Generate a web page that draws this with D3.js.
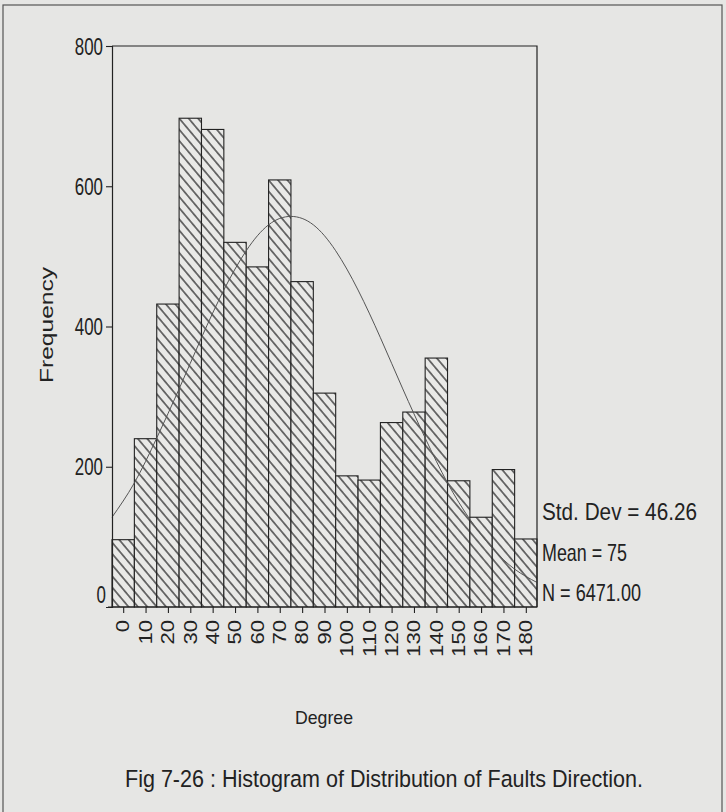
<!DOCTYPE html>
<html>
<head>
<meta charset="utf-8">
<script src="https://cdn.jsdelivr.net/npm/d3@7"></script>
<style>
  body { margin: 0; background: #e6e6e4; }
  svg { display: block; }
</style>
</head>
<body>
<div id="chart"></div>
<script>
// bins (degree centres) and their counts
var degrees = [0, 10, 20, 30, 40, 50, 60, 70, 80, 90, 100, 110, 120, 130, 140, 150, 160, 170, 180];
var counts = [96, 240, 432, 697, 681, 520, 485, 609, 464, 305, 187, 181, 263, 278, 355, 180, 128, 196, 97];

// fitted normal curve, read at the bin edges (-5, 5, ... 185)
var curveDegrees = [-5, 5, 15, 25, 35, 45, 55, 65, 75, 85, 95, 105, 115, 125, 135, 145, 155, 165, 175, 185];
var curveValues = [128, 177, 241, 311, 384, 452, 508, 545, 557, 545, 508, 452, 384, 311, 241, 177, 125, 84, 54, 35];

var yTicks = [0, 200, 400, 600, 800];
var statLabels = ["Std. Dev = 46.26", "Mean = 75", "N = 6471.00"];

var W = 726, H = 812;
var ink = "#222";
var font = "'Liberation Sans', Arial, sans-serif";

var svg = d3.select("#chart").append("svg")
    .attr("width", W)
    .attr("height", H);

// hatch pattern, lines running down to the right
var gap = 7.2;
var defs = svg.append("defs");
var pat = defs.append("pattern")
    .attr("id", "hatch")
    .attr("patternUnits", "userSpaceOnUse")
    .attr("width", 10)
    .attr("height", gap)
    .attr("patternTransform", "rotate(50)");
pat.append("rect").attr("width", 10).attr("height", gap).attr("fill", "#e9e9e7");
pat.append("line")
    .attr("x1", 0).attr("y1", gap / 2).attr("x2", 10).attr("y2", gap / 2)
    .attr("stroke", ink).attr("stroke-width", 1.2);

// outer frame of the scanned figure
svg.append("rect")
    .attr("x", 3).attr("y", 5)
    .attr("width", 719).attr("height", 830)
    .attr("fill", "none").attr("stroke", "#555").attr("stroke-width", 1.2);

var x = d3.scaleLinear().domain([-5, 185]).range([112, 537]);
var y = d3.scaleLinear().domain([0, 800]).range([607, 46]);

// bars
svg.selectAll(".bar")
    .data(degrees)
    .enter()
    .append("rect")
    .attr("class", "bar")
    .attr("x", d => x(d - 5))
    .attr("width", d => x(d + 5) - x(d - 5))
    .attr("y", (d, i) => y(counts[i]))
    .attr("height", (d, i) => y(0) - y(counts[i]))
    .attr("fill", "url(#hatch)")
    .attr("stroke", ink)
    .attr("stroke-width", 1.1);

// normal curve
var line = d3.line()
    .x(d => x(d[0]))
    .y(d => y(d[1]))
    .curve(d3.curveNatural);
svg.append("path")
    .datum(curveDegrees.map((d, i) => [d, curveValues[i]]))
    .attr("d", line)
    .attr("fill", "none")
    .attr("stroke", "#555")
    .attr("stroke-width", 1);

// plot frame (top and right)
svg.append("path")
    .attr("d", "M" + x(-5) + "," + y(800) + "H" + x(185) + "V" + y(0))
    .attr("fill", "none").attr("stroke", ink).attr("stroke-width", 1.2);

// Y axis
var yAxis = svg.append("g")
    .attr("transform", "translate(" + x(-5) + ",0)")
    .call(d3.axisLeft(y).tickValues(yTicks).tickSize(6).tickPadding(3));
yAxis.select(".domain").attr("stroke", ink).attr("stroke-width", 1.2);
yAxis.selectAll(".tick line").attr("stroke", ink).attr("stroke-width", 1.1)
    .attr("display", d => d === 0 ? "none" : null);
yAxis.selectAll(".tick text")
    .attr("fill", ink)
    .style("font-family", font)
    .style("font-size", "23px")
    .attr("textLength", d => String(d).length * 9.4)
    .attr("lengthAdjust", "spacingAndGlyphs")
    .attr("dy", d => d === 0 ? "-0.2em" : "0.35em")
    .attr("x", d => d === 0 ? -6 : -9);

// X axis
var xAxis = svg.append("g")
    .attr("transform", "translate(0," + y(0) + ")")
    .call(d3.axisBottom(x).tickValues(degrees).tickSize(6).tickFormat(""));
xAxis.select(".domain").remove();
xAxis.selectAll(".tick line").attr("stroke", ink).attr("stroke-width", 1.1);
svg.append("line")
    .attr("x1", 108).attr("x2", x(185))
    .attr("y1", y(0)).attr("y2", y(0))
    .attr("stroke", ink).attr("stroke-width", 1.2);

svg.selectAll(".xlab")
    .data(degrees)
    .enter()
    .append("text")
    .attr("class", "xlab")
    .attr("transform", d => "translate(" + x(d) + ",620) rotate(-90)")
    .attr("text-anchor", "end")
    .attr("dy", "0.36em")
    .attr("fill", ink)
    .style("font-family", font)
    .style("font-size", "17.5px")
    .attr("textLength", d => String(d).length * 12.3)
    .attr("lengthAdjust", "spacingAndGlyphs")
    .text(d => d);

// axis titles
svg.append("text")
    .attr("transform", "translate(47,325) rotate(-90)")
    .attr("text-anchor", "middle")
    .attr("dy", "0.35em")
    .attr("fill", ink)
    .style("font-family", font)
    .style("font-size", "18px")
    .attr("textLength", 116)
    .attr("lengthAdjust", "spacingAndGlyphs")
    .text("Frequency");

svg.append("text")
    .attr("x", 295).attr("y", 724)
    .attr("fill", ink)
    .style("font-family", font)
    .style("font-size", "19px")
    .attr("textLength", 58)
    .attr("lengthAdjust", "spacingAndGlyphs")
    .text("Degree");

// stats block
var statWidths = [155, 85, 99];
svg.selectAll(".stat")
    .data(statLabels)
    .enter()
    .append("text")
    .attr("class", "stat")
    .attr("x", 542)
    .attr("y", (d, i) => 520 + i * 40.5)
    .attr("fill", ink)
    .style("font-family", font)
    .style("font-size", "24px")
    .attr("textLength", (d, i) => statWidths[i])
    .attr("lengthAdjust", "spacingAndGlyphs")
    .text(d => d);

// caption
svg.append("text")
    .attr("x", 125).attr("y", 787)
    .attr("fill", ink)
    .style("font-family", font)
    .style("font-size", "24.5px")
    .attr("textLength", 518)
    .attr("lengthAdjust", "spacingAndGlyphs")
    .text("Fig 7-26 : Histogram of Distribution of Faults Direction.");
</script>
</body>
</html>
